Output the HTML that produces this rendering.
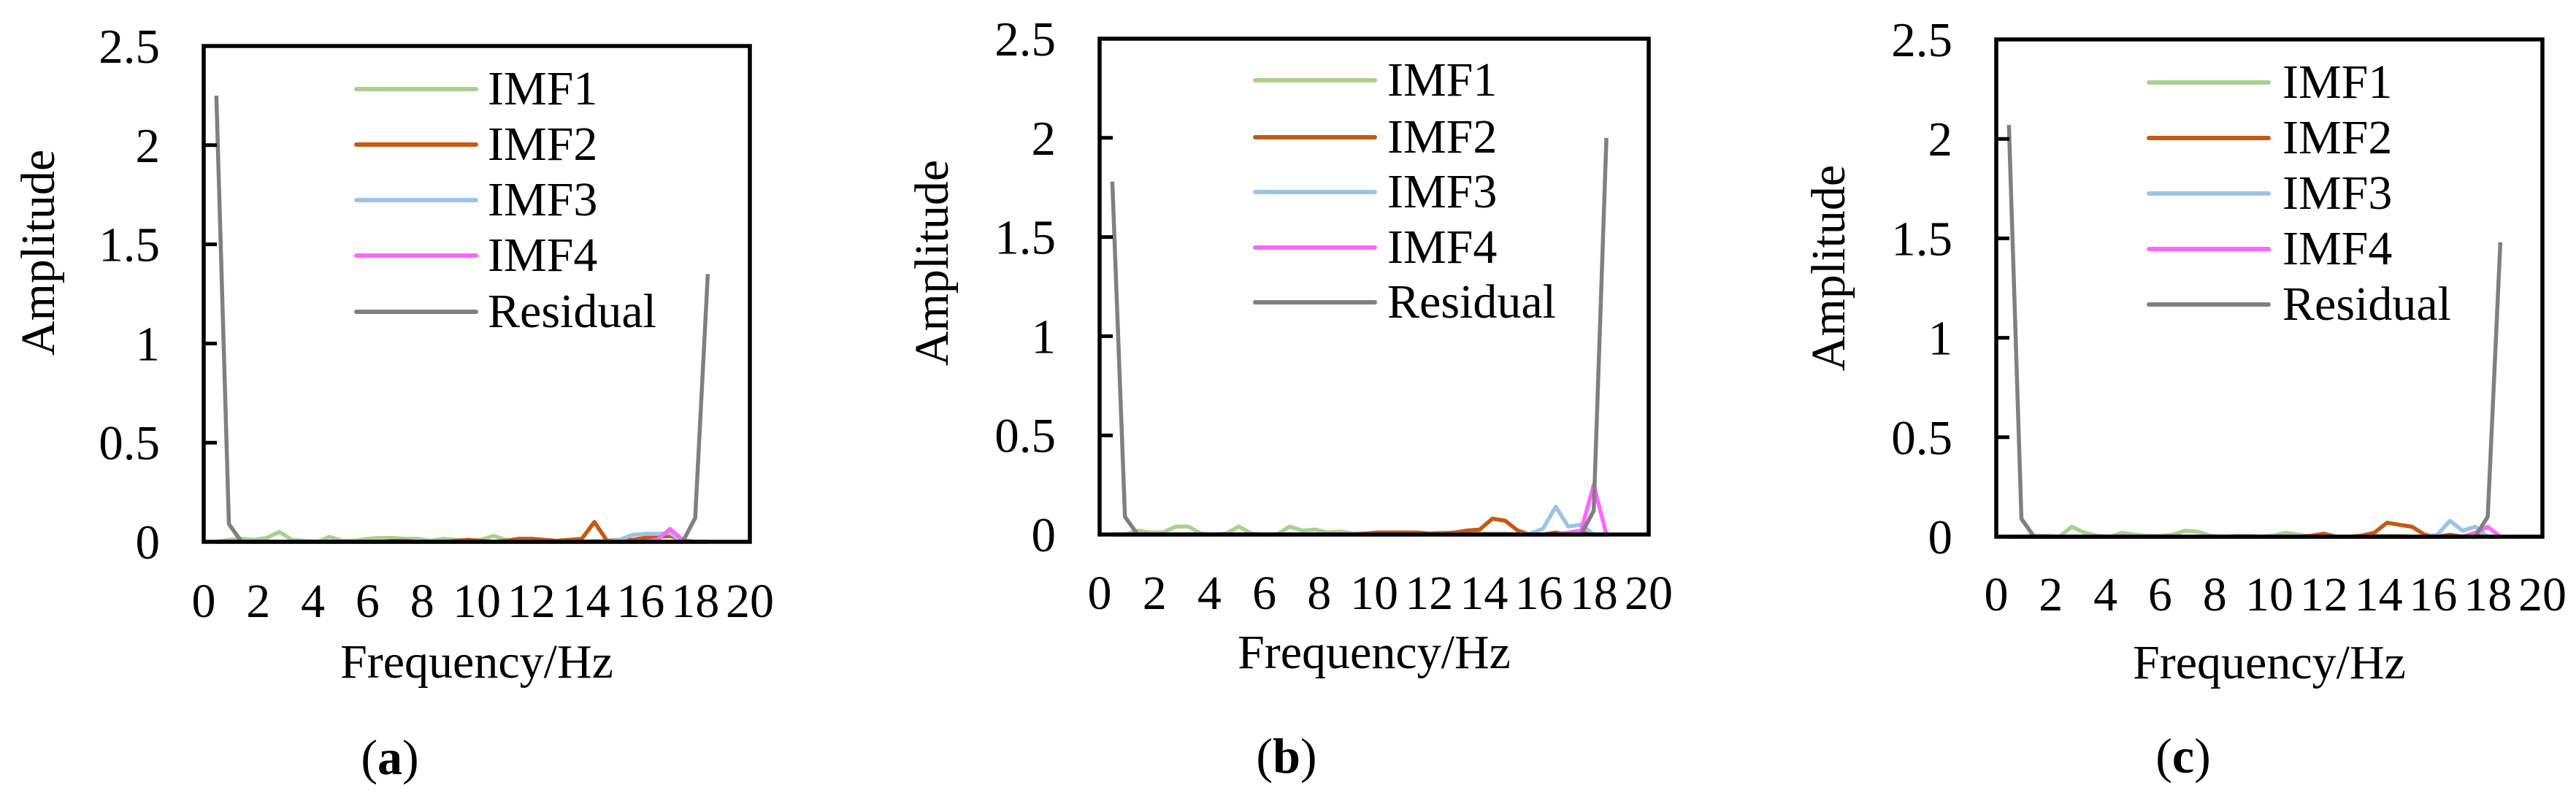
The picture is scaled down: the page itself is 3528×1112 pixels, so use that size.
<!DOCTYPE html>
<html><head><meta charset="utf-8"><style>
html,body{margin:0;padding:0;background:#fff}
svg{display:block}
text{font-family:"Liberation Serif","Times New Roman",serif;fill:#000}
</style></head><body>
<svg id="fig" width="3528" height="1112" viewBox="0 0 3528 1112" xmlns="http://www.w3.org/2000/svg"></svg>
<script>
const seriesNames = ["IMF1","IMF2","IMF3","IMF4","Residual"];
const seriesColors = ["#a9d18e","#c55a11","#9dc3e6","#ff66ff","#808080"];
const yTicks = [0,0.5,1,1.5,2,2.5];
const yTickLabels = ["0","0.5","1","1.5","2","2.5"];
const xTicks = [0,2,4,6,8,10,12,14,16,18,20];
const freqStep = 0.4615;
const panelLabels = ["a","b","c"];

const aIMF1 = [0,0.01,0.015,0.01,0.02,0.05,0.01,0.005,0,0.025,0.005,0.005,0.015,0.02,0.02,0.015,0.015,0.005,0.015,0.01,0.005,0.01,0.03,0.01,0.005,0.015,0.005,0,0,0,0.005,0.005,0,0,0,0,0,0,0,0];
const aIMF2 = [0,0,0,0,0,0,0,0,0,0,0,0,0,0,0.005,0.005,0,0,0,0.005,0.01,0.005,0,0.005,0.015,0.015,0.01,0.005,0.01,0.015,0.1,0.005,0.01,0.01,0.02,0.025,0.03,0.01,0,0];
const aIMF3 = [0,0,0,0,0,0,0,0,0,0,0,0,0,0,0,0,0,0,0,0,0,0,0,0,0,0,0,0,0,0,0,0,0.01,0.035,0.04,0.04,0.045,0,0,0];
const aIMF4 = [0,0,0,0,0,0,0,0,0,0,0,0,0,0,0,0,0,0,0,0,0,0,0,0,0,0,0,0,0,0,0,0,0,0,0,0.01,0.065,0.01,0,0];
const aRes = [2.25,0.09,0,0,0,0,0,0,0,0,0,0,0,0,0,0,0,0,0,0,0,0,0,0,0,0,0,0,0,0,0,0,0,0,0,0,0,0,0.12,1.35];

const bIMF1 = [0,0,0.02,0.01,0.01,0.04,0.04,0.005,0,0.005,0.04,0.005,0,0,0.04,0.02,0.025,0.01,0.015,0.005,0.005,0.01,0.01,0.01,0.01,0.005,0.01,0.005,0.005,0.005,0.005,0.005,0,0,0,0,0,0,0,0];
const bIMF2 = [0,0,0,0,0,0,0,0,0,0,0,0,0,0,0,0,0,0,0,0,0.005,0.01,0.01,0.01,0.01,0.005,0.005,0.01,0.02,0.025,0.08,0.07,0.02,0,0,0.01,0,0.01,0,0];
const bIMF3 = [0,0,0,0,0,0,0,0,0,0,0,0,0,0,0,0,0,0,0,0,0,0,0,0,0,0,0,0,0,0,0,0,0,0.005,0.03,0.14,0.04,0.05,0,0];
const bIMF4 = [0,0,0,0,0,0,0,0,0,0,0,0,0,0,0,0,0,0,0,0,0,0,0,0,0,0,0,0,0,0,0,0,0,0,0,0,0.01,0.02,0.25,0];
const bRes = [1.78,0.09,0,0,0,0,0,0,0,0,0,0,0,0,0,0,0,0,0,0,0,0,0,0,0,0,0,0,0,0,0,0,0,0,0,0,0,0,0.12,2.0];

const cIMF1 = [0,0,0.005,0.005,0,0.05,0.02,0.005,0,0.02,0.01,0.005,0.005,0.01,0.03,0.025,0.005,0,0.005,0.005,0,0.005,0.02,0.01,0,0.005,0,0,0.005,0.005,0.005,0.005,0,0,0,0,0,0,0,0];
const cIMF2 = [0,0,0,0,0,0,0,0,0,0,0,0,0,0,0,0,0,0,0,0,0,0,0,0,0.005,0.015,0,0,0.005,0.02,0.07,0.06,0.05,0.01,0,0.01,0,0.005,0,0];
const cIMF3 = [0,0,0,0,0,0,0,0,0,0,0,0,0,0,0,0,0,0,0,0,0,0,0,0,0,0,0,0,0,0,0,0,0,0,0.01,0.08,0.03,0.05,0,0];
const cIMF4 = [0,0,0,0,0,0,0,0,0,0,0,0,0,0,0,0,0,0,0,0,0,0,0,0,0,0,0,0,0,0,0,0,0,0,0,0,0,0.02,0.05,0];
const cRes = [2.07,0.09,0,0,0,0,0,0,0,0,0,0,0,0,0,0,0,0,0,0,0,0,0,0,0,0,0,0,0,0,0,0,0,0,0,0,0,0,0.1,1.48];

const panelSeries = [
  [aIMF1,aIMF2,aIMF3,aIMF4,aRes],
  [bIMF1,bIMF2,bIMF3,bIMF4,bRes],
  [cIMF1,cIMF2,cIMF3,cIMF4,cRes]
];

const layouts = [
  {L:279,R:1027,T:63,B:742,yTitleX:52,yTitleY:346,tickY:823,xTitleY:906,capX:534,capY:1060,legLine:[488,652],legText:668,legRows:[122,198,274,350,427]},
  {L:1506,R:2258,T:53,B:732,yTitleX:1276,yTitleY:360,tickY:812,xTitleY:893,capX:1762,capY:1058,legLine:[1719,1883],legText:1900,legRows:[110,188,263,339,414]},
  {L:2734,R:3482,T:54,B:735,yTitleX:2504,yTitleY:367,tickY:814,xTitleY:907,capX:2990,capY:1058,legLine:[2943,3107],legText:3126,legRows:[113,189,265,341,417]}
];

const NS = "http://www.w3.org/2000/svg";
const svg = document.getElementById("fig");
function mk(tag, attrs, parent){
  const e = document.createElementNS(NS, tag);
  for (const k in attrs) e.setAttribute(k, attrs[k]);
  (parent||svg).appendChild(e);
  return e;
}

layouts.forEach((P, pi) => {
  const g = mk("g", {});
  
  
  const xs = v => P.L + (v/20)*(P.R-P.L);
  const ys = v => P.B - (v/2.5)*(P.B-P.T);

  panelSeries[pi].forEach((arr, si) => {
    const pts = arr.map((v,i) => xs((i+1)*freqStep).toFixed(1)+","+ys(v).toFixed(1)).join(" ");
    const pl = mk("polyline", {points:pts, fill:"none", stroke:seriesColors[si], "stroke-width":5.5, "stroke-linejoin":"round"}, g);
    
    
  });

  const fr = mk("rect", {x:P.L, y:P.T, width:P.R-P.L, height:P.B-P.T, fill:"none", stroke:"#000", "stroke-width":5.5}, g);
  
  

  yTicks.forEach((t, ti) => {
    const y = ys(t);
    const tk = mk("line", {x1:P.L, x2:P.L+18, y1:y, y2:y, stroke:"#000", "stroke-width":5}, g);
    
    
    const tl = mk("text", {x:P.L-60, y:y+23, "font-size":67, "text-anchor":"end"}, g);
    tl.textContent = yTickLabels[ti];
    
    
  });

  xTicks.forEach(t => {
    const tl = mk("text", {x:xs(t), y:P.tickY+22, "font-size":66, "text-anchor":"middle"}, g);
    tl.textContent = String(t);
    
    
  });

  const yt = mk("text", {x:0, y:0, "font-size":66, "text-anchor":"middle", transform:`translate(${P.yTitleX+22},${P.yTitleY}) rotate(-90)`}, g);
  yt.textContent = "Amplitude";
  
  
  const xt = mk("text", {x:(P.L+P.R)/2, y:P.xTitleY+22, "font-size":66, "text-anchor":"middle"}, g);
  xt.textContent = "Frequency/Hz";
  
  

  seriesNames.forEach((n, si) => {
    const y = P.legRows[si];
    const ln = mk("line", {x1:P.legLine[0], x2:P.legLine[1], y1:y, y2:y, stroke:seriesColors[si], "stroke-width":6, "stroke-linecap":"round"}, g);
    
    
    const tx = mk("text", {x:P.legText, y:y+21, "font-size":66}, g);
    tx.textContent = n;
    
    
  });

  const cap = mk("text", {x:P.capX, y:P.capY, "font-size":68, "text-anchor":"middle"}, g);
  
  
  const o = mk("tspan", {}, cap); o.textContent = "(";
  const b = mk("tspan", {"font-weight":"bold"}, cap); b.textContent = panelLabels[pi];
  const c = mk("tspan", {}, cap); c.textContent = ")";
});
</script>
</body></html>
